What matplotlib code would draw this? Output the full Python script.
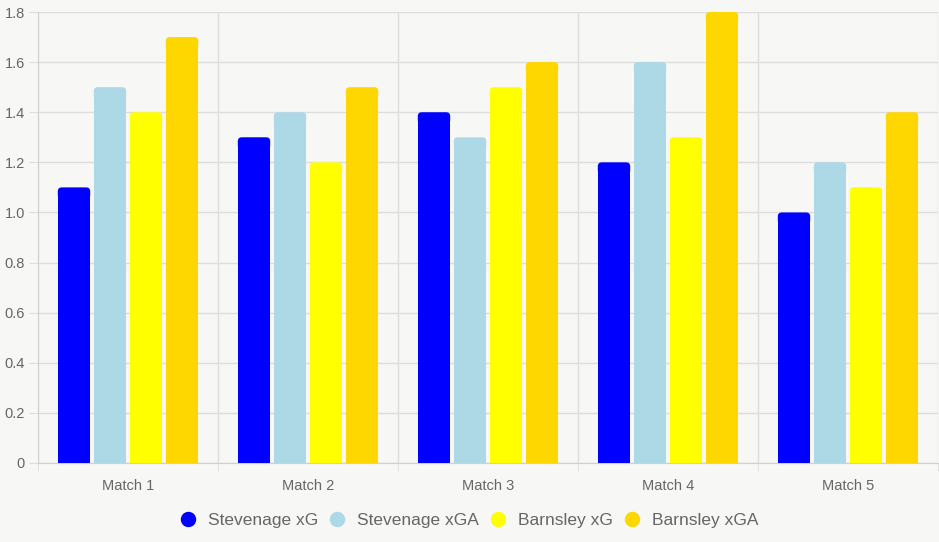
import matplotlib.pyplot as plt
from matplotlib.patches import FancyBboxPatch
from matplotlib.lines import Line2D
import numpy as np

# data
matches = ['Match 1', 'Match 2', 'Match 3', 'Match 4', 'Match 5']
stevenage_xg = [1.1, 1.3, 1.4, 1.2, 1.0]
stevenage_xga = [1.5, 1.4, 1.3, 1.6, 1.2]
barnsley_xg = [1.4, 1.2, 1.5, 1.3, 1.1]
barnsley_xga = [1.7, 1.5, 1.6, 1.8, 1.4]

series = [
    ('Stevenage xG', stevenage_xg, '#0000ff'),
    ('Stevenage xGA', stevenage_xga, '#add8e6'),
    ('Barnsley xG', barnsley_xg, '#ffff00'),
    ('Barnsley xGA', barnsley_xga, '#ffd700'),
]

bg = '#f7f7f5'
txt = '#666666'
plt.rcParams['font.family'] = ['Liberation Sans', 'DejaVu Sans']

W, H = 939, 542
fig = plt.figure(figsize=(W / 100, H / 100), dpi=100, facecolor=bg)
ax = fig.add_axes([38 / W, (H - 463) / H, 900 / W, 451 / H])
ax.set_facecolor(bg)

x = np.arange(len(matches))
slot = 0.8 / len(series)
barw = slot * 0.9
# px per data unit, for rounded corners
px_x = 900 / len(matches)
px_y = 451 / 1.8
r = 4.0  # corner radius px
pt = 0.72  # px -> pt at 100 dpi

for i, (name, vals, col) in enumerate(series):
    for xi, v in zip(x, vals):
        left = xi - 0.4 + slot * i + (slot - barw) / 2
        # square bottom part + rounded top
        rx = r / px_x
        ry = r / px_y
        ax.add_patch(plt.Rectangle((left, 0), barw, v - ry, facecolor=col,
                                   edgecolor='none', zorder=3))
        p = FancyBboxPatch((left + rx, v - 2 * ry), barw - 2 * rx, ry,
                           boxstyle='round,pad=%f' % rx,
                           mutation_aspect=ry / rx,
                           facecolor=col, edgecolor='none', zorder=3)
        ax.add_patch(p)

ax.set_xlim(-0.5, len(matches) - 0.5)
ax.set_ylim(0, 1.8)

yt = np.arange(0, 1.81, 0.2)
ax.set_yticks(yt)
ax.set_yticklabels(['0'] + ['%.1f' % t for t in yt[1:]])
ax.set_xticks(x)
ax.set_xticklabels(matches)
ax.set_xticks(np.arange(-0.5, len(matches)), minor=True)

ax.grid(axis='y', color='#dddddd', linewidth=1, zorder=0)
ax.grid(axis='x', which='minor', color='#dddddd', linewidth=1, zorder=0)
ax.tick_params(axis='y', colors='#dddddd', labelcolor=txt, labelsize=10.5,
               length=9 * pt, pad=4 * pt)
ax.tick_params(axis='x', which='major', length=0, labelcolor=txt, labelsize=10.5,
               pad=16 * pt)
ax.tick_params(axis='x', which='minor', colors='#dddddd', length=8 * pt)

for s in ['top', 'right']:
    ax.spines[s].set_visible(False)
ax.spines['left'].set_color('#d0d0d0')
ax.spines['bottom'].set_color('#d0d0d0')

handles = [Line2D([], [], marker='o', linestyle='none', markersize=14 * pt,
                  markerfacecolor=c, markeredgecolor=c, label=n) for n, _, c in series]
fig.legend(handles=handles, loc='center', bbox_to_anchor=(0.5, (H - 520) / H),
           ncol=4, frameon=False, fontsize=12.5, labelcolor=txt,
           handletextpad=0.75, columnspacing=0.7, handlelength=0.8)

fig.savefig('out.png', dpi=100, facecolor=bg)
